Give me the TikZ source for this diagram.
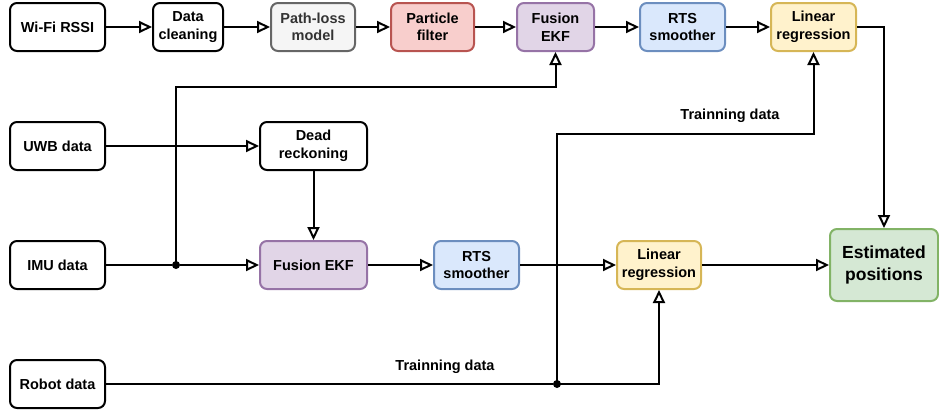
\documentclass[tikz,border=0pt]{standalone}
\usepackage{fontspec}
\setmainfont{Liberation Sans}
\usetikzlibrary{arrows.meta,positioning}
\definecolor{grayfill}{HTML}{F5F5F5}
\definecolor{graydraw}{HTML}{666666}
\definecolor{graytext}{HTML}{333333}
\definecolor{redfill}{HTML}{F8CECC}
\definecolor{reddraw}{HTML}{B85450}
\definecolor{purplefill}{HTML}{E1D5E7}
\definecolor{purpledraw}{HTML}{9673A6}
\definecolor{bluefill}{HTML}{DAE8FC}
\definecolor{bluedraw}{HTML}{6C8EBF}
\definecolor{yellowfill}{HTML}{FFF2CC}
\definecolor{yellowdraw}{HTML}{D6B656}
\definecolor{greenfill}{HTML}{D5E8D4}
\definecolor{greendraw}{HTML}{82B366}
\tikzset{
  box/.style={draw=black, fill=white, line width=2pt, rounded corners=7pt,
    minimum height=48pt, inner sep=2pt, align=center,
    font=\fontsize{14.5}{17.5}\selectfont\bfseries},
  graybox/.style={box, draw=graydraw, fill=grayfill, text=graytext},
  redbox/.style={box, draw=reddraw, fill=redfill},
  purplebox/.style={box, draw=purpledraw, fill=purplefill},
  bluebox/.style={box, draw=bluedraw, fill=bluefill},
  yellowbox/.style={box, draw=yellowdraw, fill=yellowfill},
  greenbox/.style={box, draw=greendraw, fill=greenfill,
    font=\fontsize{17.5}{22}\selectfont\bfseries},
  link/.style={line width=2pt, -{Triangle[open, length=13pt, width=12pt, line width=2pt]}},
  wire/.style={line width=2pt},
  dot/.style={circle, fill=black, inner sep=0pt, minimum size=8pt},
  lbl/.style={font=\fontsize{14.5}{17}\selectfont\bfseries}
}
\begin{document}
\begin{tikzpicture}[x=1pt, y=-1pt]
\useasboundingbox (0,0) rectangle (939,410);

% top row: Wi-Fi RSSI pipeline
\node[box, minimum width=95pt] (wifi) at (57.5,27) {Wi-Fi RSSI};
\node[box, minimum width=70pt] (clean) at (188,27) {Data\\cleaning};
\node[graybox, minimum width=84pt] (ploss) at (313,27) {Path-loss\\model};
\node[redbox, minimum width=83pt] (pf) at (432.5,27) {Particle\\filter};
\node[purplebox, minimum width=77pt] (ekfa) at (555.5,27) {Fusion\\EKF};
\node[bluebox, minimum width=85pt] (rtsa) at (682.5,27) {RTS\\smoother};
\node[yellowbox, minimum width=85pt] (lra) at (813.5,27) {Linear\\regression};

% middle rows: UWB / IMU pipeline
\node[box, minimum width=95pt] (uwb) at (57.5,146) {UWB data};
\node[box, minimum width=107pt] (dr) at (313.5,146) {Dead\\reckoning};
\node[box, minimum width=95pt] (imu) at (57.5,265) {IMU data};
\node[purplebox, minimum width=107pt] (ekfb) at (313.5,265) {Fusion EKF};
\node[bluebox, minimum width=85pt] (rtsb) at (476.5,265) {RTS\\smoother};
\node[yellowbox, minimum width=84pt] (lrb) at (659,265) {Linear\\regression};
\node[greenbox, minimum width=108pt, minimum height=72pt] (est) at (884,265) {Estimated\\positions};

% bottom row
\node[box, minimum width=95pt] (robot) at (57.5,384) {Robot data};

% junctions
\node[dot] (j1) at (176,265) {};
\node[dot] (j2) at (557,384) {};
\coordinate (c1) at (176,87);
\coordinate (c2) at (557,134);

% top row connectors
\draw[link] (wifi) -- (clean);
\draw[link] (clean) -- (ploss);
\draw[link] (ploss) -- (pf);
\draw[link] (pf) -- (ekfa);
\draw[link] (ekfa) -- (rtsa);
\draw[link] (rtsa) -- (lra);
\draw[link] (lra.east) -| (est.north);

% middle connectors
\draw[link] (uwb) -- (dr);
\draw[link] (dr) -- (ekfb);
\draw[wire] (imu) -- (j1);
\draw[link] (j1) -- (ekfb);
\draw[link] (j1.center) -- (c1) -| (ekfa.south);
\draw[link] (ekfb) -- (rtsb);
\draw[link] (rtsb) -- (lrb);
\draw[link] (lrb) -- (est);

% training data
\draw[wire] (robot) -- (j2);
\draw[link] (j2.center) -| (lrb.south);
\draw[link] (j2.center) -- (c2) -| (lra.south);
\node[lbl] (tra) at (730,116) {Trainning data};
\node[lbl] (trb) at (445,367) {Trainning data};
\end{tikzpicture}
\end{document}
